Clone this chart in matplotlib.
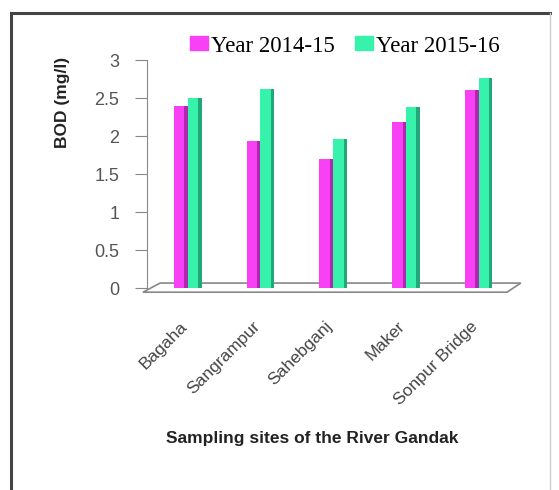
import numpy as np
import matplotlib.pyplot as plt
from matplotlib.patches import Polygon, Rectangle
from matplotlib.lines import Line2D

sites = ['Bagaha', 'Sangrampur', 'Sahebganj', 'Maker', 'Sonpur Bridge']
bod_2014 = [2.4, 1.93, 1.7, 2.18, 2.6]
bod_2015 = [2.5, 2.62, 1.96, 2.38, 2.76]
series_names = ['Year 2014-15', 'Year 2015-16']

mag = '#f840f4'
mag_side = '#b028b0'
grn = '#36f2aa'
grn_side = '#22a878'

fig = plt.figure(figsize=(5.59, 4.90), dpi=100)
fig.patch.set_facecolor('white')

# outer frame of the picture
fig.add_artist(Line2D([11/559, 11/559], [0, 1 - 13/490], color='#444444', lw=2.2))
fig.add_artist(Line2D([11/559, 550/559], [1 - 13/490, 1 - 13/490], color='#444444', lw=2.2))
fig.add_artist(Line2D([550/559, 550/559], [0, 1 - 13/490], color='#cccccc', lw=1))

ax = fig.add_axes([147/559, 1 - 288/490, (515 - 147)/559, (288 - 60)/490])
ax.set_xlim(-0.56, 4.5)
ax.set_ylim(0, 3)

x = np.arange(len(sites))
w = 0.19
face = 0.145

# floor
floor = Polygon([(-0.615, -0.055), (4.39, -0.055), (4.58, 0.065), (-0.38, 0.065)],
                closed=True, facecolor='white', edgecolor='#888888', lw=1.2,
                clip_on=False, zorder=1)
ax.add_patch(floor)

# bars: front face + darker side face
ax.bar(x - w, bod_2014, width=face, align='edge', color=mag, zorder=3)
ax.bar(x - w + face, bod_2014, width=w - face, align='edge', color=mag_side, zorder=3)
ax.bar(x, bod_2015, width=face, align='edge', color=grn, zorder=3)
ax.bar(x + face, bod_2015, width=w - face, align='edge', color=grn_side, zorder=3)

for s in ['top', 'right', 'bottom']:
    ax.spines[s].set_visible(False)
ax.spines['left'].set_color('#888888')
ax.spines['left'].set_bounds(0, 3)

ax.set_yticks([0, 0.5, 1, 1.5, 2, 2.5, 3])
ax.set_yticklabels(['0', '0.5', '1', '1.5', '2', '2.5', '3'])
ax.tick_params(axis='y', colors='#888888', labelcolor='#555555', labelsize=13,
               length=9, pad=11)
ax.set_xticks(x - 0.115)
ax.set_xticklabels(sites, rotation=45, ha='right', rotation_mode='anchor',
                   fontsize=12.5, color='#444444', family='Liberation Sans')
ax.tick_params(axis='x', length=0, pad=22)
for lab in ax.get_yticklabels():
    lab.set_family('Liberation Sans')

fig.text(63/559, 1 - 102/490, 'BOD (mg/l)', rotation=90, ha='center', va='center',
         fontsize=12.5, fontweight='bold', family='Liberation Sans', color='#222222')
fig.text(312/559, 1 - 438/490, 'Sampling sites of the River Gandak', ha='center',
         va='center', fontsize=12.5, fontweight='bold', family='Liberation Sans',
         color='#222222')

handles = [Rectangle((0, 0), 1, 1, color=mag), Rectangle((0, 0), 1, 1, color=grn)]
fig.legend(handles, series_names, loc='center', bbox_to_anchor=(345/559, 1 - 46/490),
           ncol=2, frameon=False, prop={'family': 'Liberation Serif', 'size': 16.5},
           handlelength=0.75, handleheight=0.55, handletextpad=0.15, columnspacing=0.9)

fig.savefig('out.png', dpi=100)
